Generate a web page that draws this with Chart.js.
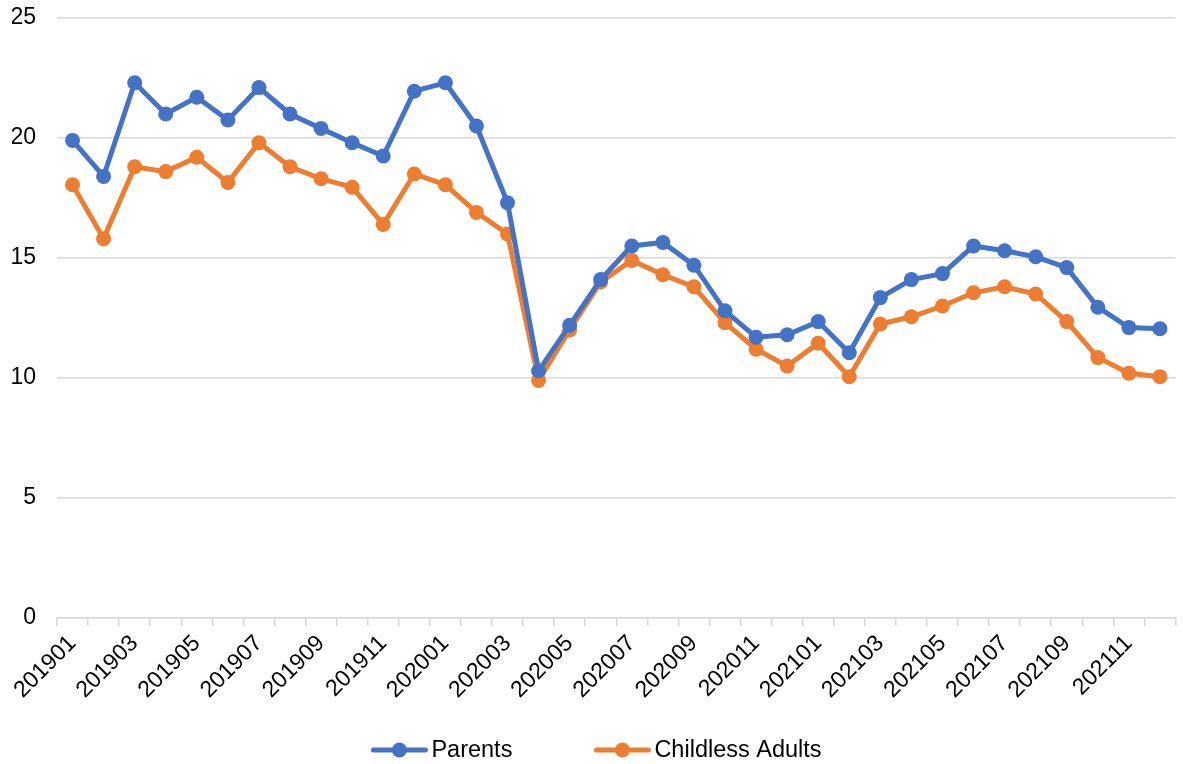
<!DOCTYPE html>
<html>
<head>
<meta charset="utf-8">
<script src="https://cdn.jsdelivr.net/npm/chart.js@4"></script>
<style>
  html, body { margin: 0; padding: 0; background: #fff; }
  #wrap { width: 1183px; height: 764px; position: relative; }
</style>
</head>
<body>
<div id="wrap"><canvas id="chart"></canvas></div>
<script>
const months = [
  '201901','201902','201903','201904','201905','201906','201907','201908','201909','201910','201911','201912',
  '202001','202002','202003','202004','202005','202006','202007','202008','202009','202010','202011','202012',
  '202101','202102','202103','202104','202105','202106','202107','202108','202109','202110','202111','202112'
];
const parents = [
  19.9, 18.4, 22.3, 21.0, 21.7, 20.75, 22.1, 21.0, 20.4, 19.8, 19.25, 21.95,
  22.3, 20.5, 17.3, 10.3, 12.2, 14.1, 15.5, 15.65, 14.7, 12.8, 11.7, 11.8,
  12.35, 11.05, 13.35, 14.1, 14.35, 15.5, 15.3, 15.05, 14.6, 12.95, 12.1, 12.05
];
const childless = [
  18.05, 15.8, 18.8, 18.6, 19.2, 18.15, 19.8, 18.8, 18.3, 17.95, 16.4, 18.5,
  18.05, 16.9, 16.0, 9.9, 12.0, 14.0, 14.9, 14.3, 13.8, 12.3, 11.2, 10.5,
  11.45, 10.05, 12.25, 12.55, 13.0, 13.55, 13.8, 13.5, 12.35, 10.85, 10.2, 10.05
];
const yTicks = [0, 5, 10, 15, 20, 25];

const BLUE = '#4472C4';
const ORANGE = '#ED7D31';
const GRID = '#d9d9d9';
const FONT = 'Liberation Sans, Arial, sans-serif';

// excel style legend: line with a dot, drawn under the axis labels
const lineLegend = {
  id: 'lineLegend',
  afterDraw(chart) {
    const g = chart.ctx;
    const y = 750;
    const iconW = 56, gapText = 4, gapItem = 82;
    g.save();
    g.font = '23.5px ' + FONT;
    g.textBaseline = 'middle';
    g.textAlign = 'left';
    const items = chart.data.datasets.map(ds => ({
      text: ds.label, color: ds.borderColor, w: g.measureText(ds.label).width
    }));
    let total = 0;
    items.forEach((it, i) => { total += iconW + gapText + it.w + (i ? gapItem : 0); });
    let x = chart.width / 2 - total / 2 + 5;
    items.forEach(it => {
      g.strokeStyle = it.color;
      g.lineWidth = 5;
      g.lineCap = 'round';
      g.beginPath(); g.moveTo(x + 2, y); g.lineTo(x + iconW - 2, y); g.stroke();
      g.fillStyle = it.color;
      g.beginPath(); g.arc(x + iconW / 2, y, 7.5, 0, Math.PI * 2); g.fill();
      g.fillStyle = '#000';
      g.fillText(it.text, x + iconW + gapText, y + 1);
      x += iconW + gapText + it.w + gapItem;
    });
    g.restore();
  }
};

const ctx = document.getElementById('chart').getContext('2d');
new Chart(ctx, {
  type: 'line',
  data: {
    labels: months,
    datasets: [
      {
        label: 'Parents',
        data: parents,
        borderColor: BLUE,
        backgroundColor: BLUE,
        borderWidth: 5,
        pointRadius: 7.5,
        pointHoverRadius: 7.5,
        pointBorderWidth: 0,
        tension: 0
      },
      {
        label: 'Childless Adults',
        data: childless,
        borderColor: ORANGE,
        backgroundColor: ORANGE,
        borderWidth: 5,
        pointRadius: 7.5,
        pointHoverRadius: 7.5,
        pointBorderWidth: 0,
        tension: 0
      }
    ]
  },
  plugins: [lineLegend],
  options: {
    responsive: true,
    maintainAspectRatio: false,
    animation: false,
    layout: { padding: { left: 12, right: 0, top: 18, bottom: 40 } },
    plugins: {
      tooltip: { enabled: false },
      legend: { display: false }
    },
    scales: {
      x: {
        offset: true,
        border: { display: true, color: GRID, width: 1.5 },
        grid: {
          offset: true,
          drawOnChartArea: false,
          drawTicks: true,
          tickLength: 8,
          color: GRID,
          lineWidth: 1.5
        },
        ticks: {
          color: '#000',
          font: { family: FONT, size: 23 },
          maxRotation: 45,
          minRotation: 45,
          autoSkip: false,
          padding: 4,
          callback: function (val, idx) {
            return idx % 2 === 0 ? months[idx] : '';
          }
        },
        afterFit: function (axis) {
          axis.paddingLeft = 0;
          axis.paddingRight = 0;
          axis.height = 106;
        }
      },
      y: {
        min: 0,
        max: 25,
        afterBuildTicks: function (axis) {
          axis.ticks = yTicks.map(function (v) { return { value: v }; });
        },
        border: { display: false },
        grid: { color: GRID, lineWidth: 1.5, drawTicks: false },
        ticks: {
          color: '#000',
          font: { family: FONT, size: 23 },
          padding: 21
        },
        afterFit: function (axis) {
          axis.paddingTop = 0;
          axis.paddingBottom = 0;
          axis.width = 45;
        }
      }
    }
  }
});
</script>
</body>
</html>
